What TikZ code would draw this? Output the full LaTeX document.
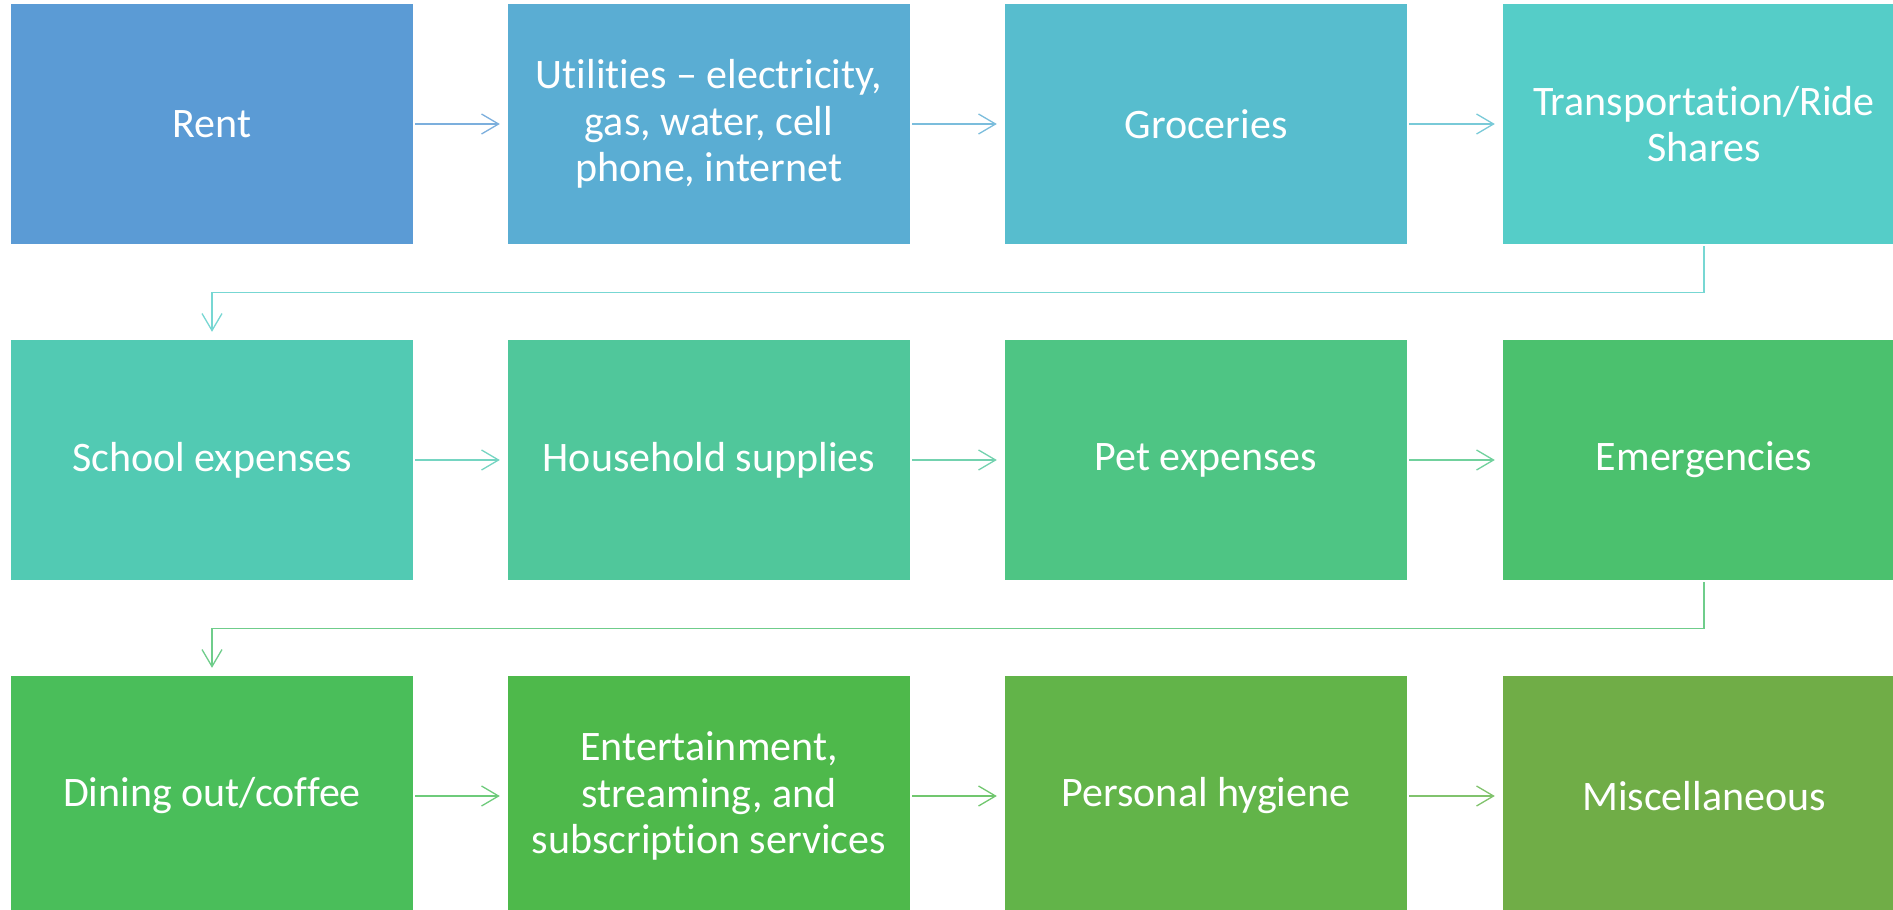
\documentclass[tikz,border=0pt]{standalone}
\usepackage{fontspec}
\setmainfont[RawFeature={-liga}]{Carlito}
\usetikzlibrary{arrows.meta}
\definecolor{cA}{HTML}{5B9BD5}
\definecolor{cB}{HTML}{5AADD3}
\definecolor{cC}{HTML}{57BDCE}
\definecolor{cD}{HTML}{55CDC8}
\definecolor{cE}{HTML}{52CAB3}
\definecolor{cF}{HTML}{50C79B}
\definecolor{cG}{HTML}{4EC584}
\definecolor{cH}{HTML}{4BC16E}
\definecolor{cI}{HTML}{4ABE5A}
\definecolor{cJ}{HTML}{4EB94B}
\definecolor{cK}{HTML}{62B449}
\definecolor{cL}{HTML}{70AD47}
\tikzset{
  cell/.style={fill=#1, draw=none, minimum width=402pt, minimum height=240pt,
    inner sep=0pt, text=white, align=center,
    font=\fontsize{42}{46.7}\selectfont},
  flow/.style={draw=#1!80!white, line width=1.3pt,
    -{Straight Barb[length=17pt,width=20pt,line width=1.3pt]},
    shorten <=2pt, shorten >=8pt}
}
\begin{document}
\begin{tikzpicture}[x=1pt,y=-1pt]
\useasboundingbox (0,0) rectangle (1893,910);
\clip (0,0) rectangle (1893,910);
\fill[white] (0,0) rectangle (1893,910);
\node[cell=cA] (a1) at (212,124) {Rent};
\node[cell=cB] (a2) at (709,124) {Utilities – electricity,\\gas, water, cell\\phone, internet};
\node[cell=cC] (a3) at (1206,124) {Groceries};
\node[cell=cD] (a4) at (1704,124) {Transportation/Ride\\Shares};
\node[cell=cE] (b1) at (212,460) {School expenses};
\node[cell=cF] (b2) at (709,460) {Household supplies};
\node[cell=cG] (b3) at (1206,460) {Pet expenses};
\node[cell=cH] (b4) at (1704,460) {Emergencies};
\node[cell=cI] (c1) at (212,796) {Dining out/coffee};
\node[cell=cJ] (c2) at (709,796) {Entertainment,\\streaming, and\\subscription services};
\node[cell=cK] (c3) at (1206,796) {Personal hygiene};
\node[cell=cL] (c4) at (1704,796) {Miscellaneous};
\draw[flow=cA] (a1.east) -- (a2.west);
\draw[flow=cB] (a2.east) -- (a3.west);
\draw[flow=cC] (a3.east) -- (a4.west);
\draw[flow=cD] (a4.south) -- ++(0,48) -| (b1.north);
\draw[flow=cE] (b1.east) -- (b2.west);
\draw[flow=cF] (b2.east) -- (b3.west);
\draw[flow=cG] (b3.east) -- (b4.west);
\draw[flow=cH] (b4.south) -- ++(0,48) -| (c1.north);
\draw[flow=cI] (c1.east) -- (c2.west);
\draw[flow=cJ] (c2.east) -- (c3.west);
\draw[flow=cK] (c3.east) -- (c4.west);
\end{tikzpicture}
\end{document}
